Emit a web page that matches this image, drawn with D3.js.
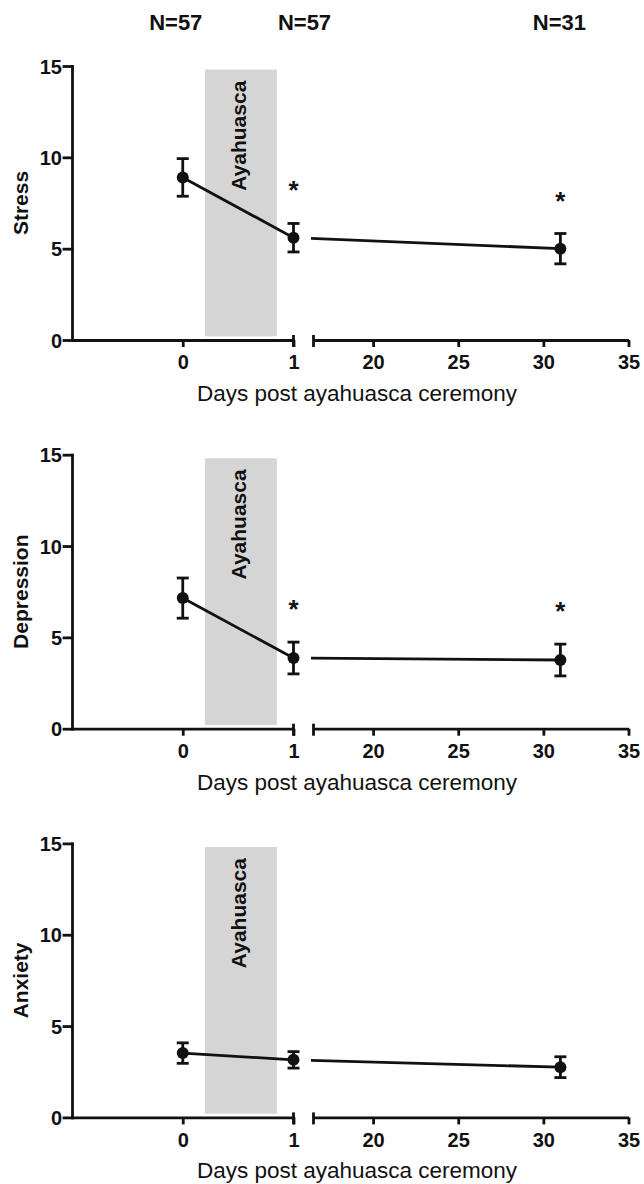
<!DOCTYPE html>
<html>
<head>
<meta charset="utf-8">
<script src="https://cdn.jsdelivr.net/npm/d3@7"></script>
<style>
  html, body { margin: 0; padding: 0; background: #fff; }
  svg { display: block; font-family: "Liberation Sans", Arial, sans-serif; }
</style>
</head>
<body>
<svg id="chart" width="644" height="1184"></svg>
<script>
// ---- Data ----
const days = [0, 1, 31];
const nLabels = ["N=57", "N=57", "N=31"];
const measures = ["Stress", "Depression", "Anxiety"];
const stressMean = [8.9, 5.6, 5.0];
const stressSE = [1.03, 0.78, 0.83];
const depressionMean = [7.15, 3.87, 3.76];
const depressionSE = [1.1, 0.87, 0.87];
const anxietyMean = [3.52, 3.15, 2.75];
const anxietySE = [0.56, 0.45, 0.57];
const stressSig = [false, true, true];
const depressionSig = [false, true, true];
const anxietySig = [false, false, false];
const yTicks = [0, 5, 10, 15];
const xTicksLeft = [0, 1];
const xTicksRight = [20, 25, 30, 35];
const ayahuascaWindow = [0.2, 0.85];
const xTitle = "Days post ayahuasca ceremony";
const shadeLabel = "Ayahuasca";

const panels = [
  { name: measures[0], mean: stressMean, se: stressSE, sig: stressSig },
  { name: measures[1], mean: depressionMean, se: depressionSE, sig: depressionSig },
  { name: measures[2], mean: anxietyMean, se: anxietySE, sig: anxietySig }
];

// ---- Layout ----
const svg = d3.select("#chart");
const ink = "#111";
const SW = 2.8;
const FONT = "Liberation Sans, Arial, sans-serif";
const xL = d3.scaleLinear().domain([-1, 1]).range([72, 293.5]);
const xR = d3.scaleLinear().domain([16.5, 35]).range([313.5, 628.5]);
const xPos = d => (d <= 1 ? xL(d) : xR(d));
const panelTop0 = 66, panelStep = 388.7, panelH = 274;
const nNudge = [-7, 11, -1];
const fmt = d3.format("d");

// N labels
svg.selectAll("text.nlab").data(nLabels).join("text")
  .attr("class", "nlab")
  .attr("x", (d, i) => xPos(days[i]) + nNudge[i])
  .attr("y", 30)
  .attr("text-anchor", "middle")
  .attr("font-size", 22).attr("font-weight", "bold").attr("fill", ink)
  .text(d => d);

panels.forEach((p, pi) => {
  const top = panelTop0 + pi * panelStep;
  const y = d3.scaleLinear().domain([0, 15]).range([top + panelH, top]);
  const g = svg.append("g");
  const y0 = y(0);

  // shaded window
  g.append("rect")
    .attr("x", xL(ayahuascaWindow[0]))
    .attr("width", xL(ayahuascaWindow[1]) - xL(ayahuascaWindow[0]))
    .attr("y", y(14.8))
    .attr("height", y(0.2) - y(14.8))
    .attr("fill", "#d5d5d5");

  g.append("text")
    .attr("transform", `translate(${(xL(ayahuascaWindow[0]) + xL(ayahuascaWindow[1])) / 2 + 5.5},${y(14.8) + 11}) rotate(-90)`)
    .attr("text-anchor", "end")
    .attr("font-size", 21).attr("font-weight", "bold").attr("fill", ink)
    .text(shadeLabel);

  // Y axis
  const ya = g.append("g").attr("transform", `translate(${xL(-1)},0)`)
    .call(d3.axisLeft(y).tickValues(yTicks).tickFormat(fmt).tickSize(8).tickPadding(2).tickSizeOuter(0));
  ya.selectAll("path, line").attr("stroke", ink).attr("stroke-width", SW).attr("stroke-linecap", "square");
  ya.selectAll("text").attr("font-size", 20).attr("font-weight", "bold").attr("fill", ink)
    .attr("font-family", FONT).attr("dy", "0.36em");

  // X axes (broken)
  const xa1 = g.append("g").attr("transform", `translate(0,${y0})`)
    .call(d3.axisBottom(xL).tickValues(xTicksLeft).tickFormat(fmt).tickSize(7).tickPadding(8).tickSizeOuter(0));
  const xa2 = g.append("g").attr("transform", `translate(0,${y0})`)
    .call(d3.axisBottom(xR).tickValues(xTicksRight).tickFormat(fmt).tickSize(7).tickPadding(8).tickSizeOuter(0));
  [xa1, xa2].forEach(a => {
    a.selectAll("path, line").attr("stroke", ink).attr("stroke-width", SW);
    a.selectAll("text").attr("font-size", 20).attr("font-weight", "bold").attr("fill", ink)
      .attr("font-family", FONT);
  });
  // break end marks
  [xL(1), xR(16.5)].forEach(bx => {
    g.append("line").attr("x1", bx).attr("x2", bx)
      .attr("y1", y0 - 5).attr("y2", y0 + 7)
      .attr("stroke", ink).attr("stroke-width", SW);
  });

  // X title
  g.append("text")
    .attr("x", 357).attr("y", y0 + 61)
    .attr("text-anchor", "middle")
    .attr("font-size", 22.5).attr("fill", ink)
    .text(xTitle);

  // Y title
  g.append("text")
    .attr("transform", `translate(27.5,${(y(0) + y(15)) / 2}) rotate(-90)`)
    .attr("text-anchor", "middle")
    .attr("font-size", 21).attr("font-weight", "bold").attr("fill", ink)
    .text(p.name);

  // data lines
  const pts = days.map((d, i) => [xPos(d), y(p.mean[i])]);
  const clipL = `clipL${pi}`, clipR = `clipR${pi}`;
  const defs = svg.append("defs");
  defs.append("clipPath").attr("id", clipL).append("rect")
    .attr("x", 0).attr("y", 0).attr("width", xL(1)).attr("height", 1184);
  defs.append("clipPath").attr("id", clipR).append("rect")
    .attr("x", xR(16.5) - 2.5).attr("y", 0).attr("width", 644).attr("height", 1184);
  const line = d3.line();
  g.append("path").attr("d", line([pts[0], pts[1]]))
    .attr("fill", "none").attr("stroke", ink).attr("stroke-width", SW)
    .attr("clip-path", `url(#${clipL})`);
  g.append("path").attr("d", line([pts[1], pts[2]]))
    .attr("fill", "none").attr("stroke", ink).attr("stroke-width", SW)
    .attr("clip-path", `url(#${clipR})`);

  // error bars
  days.forEach((d, i) => {
    const cx = xPos(d);
    const hi = y(p.mean[i] + p.se[i]), lo = y(p.mean[i] - p.se[i]);
    g.append("line").attr("x1", cx).attr("x2", cx).attr("y1", hi).attr("y2", lo)
      .attr("stroke", ink).attr("stroke-width", SW);
    [hi, lo].forEach(yy => g.append("line")
      .attr("x1", cx - 6).attr("x2", cx + 6).attr("y1", yy).attr("y2", yy)
      .attr("stroke", ink).attr("stroke-width", SW));
    g.append("circle").attr("cx", cx).attr("cy", y(p.mean[i])).attr("r", 6).attr("fill", ink);
    if (p.sig[i]) {
      g.append("text")
        .attr("x", cx).attr("y", hi - 24)
        .attr("text-anchor", "middle")
        .attr("font-size", 26).attr("font-weight", "bold").attr("fill", ink)
        .text("*");
    }
  });
});
</script>
</body>
</html>
